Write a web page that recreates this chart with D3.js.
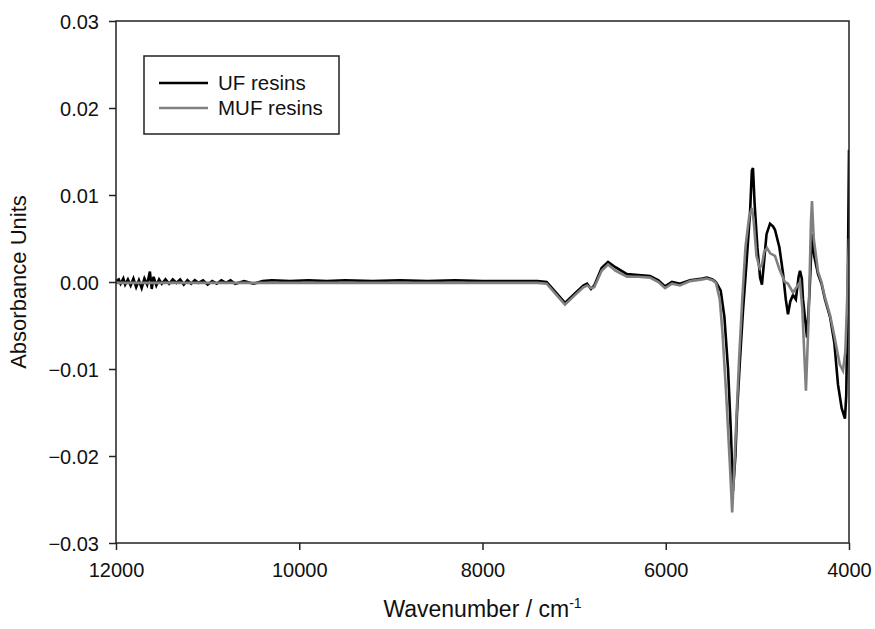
<!DOCTYPE html>
<html>
<head>
<meta charset="utf-8">
<script src="https://d3js.org/d3.v7.min.js"></script>
<style>
  body { margin: 0; background: #fff; }
  text { font-family: "Liberation Sans", Arial, sans-serif; fill: #111; }
</style>
</head>
<body>
<svg width="875" height="629"></svg>
<script>
// [wavenumber, absorbance]
var ufSpectrum = [
  [12000, 0.0001], [11970, 0.0003], [11950, -0.0002], [11920, 0.0004], [11900, -0.0003],
  [11870, 0.0003], [11840, -0.0004], [11810, 0.0004], [11780, -0.0006], [11750, 0.0002],
  [11720, -0.0007], [11690, 0.0004], [11660, -0.0003], [11630, 0.0012], [11610, -0.0008],
  [11590, 0.0006], [11560, -0.0004], [11530, 0.0003], [11500, -0.0002], [11460, 0.0003],
  [11420, -0.0002], [11380, 0.0003], [11340, -0.0001], [11300, 0.0003], [11260, -0.0003],
  [11220, 0.0002], [11180, -0.0002], [11140, 0.0002], [11100, -0.0001], [11050, 0.0002],
  [11000, -0.0003], [10950, 0.0001], [10900, -0.0002], [10850, 0.0002], [10800, -0.0001],
  [10750, 0.0002], [10700, -0.0002], [10600, 0.0001], [10500, -0.0002], [10400, 0.0001],
  [10300, 0.0002], [10100, 0.0001], [9900, 0.0002], [9700, 0.0001], [9500, 0.0002],
  [9200, 0.0001], [8900, 0.0002], [8600, 0.0001], [8300, 0.0002], [8000, 0.0001],
  [7700, 0.0001], [7400, 0.0001], [7300, 0.0000],
  [7200, -0.0012], [7100, -0.0024], [7000, -0.0014], [6900, -0.0004], [6859, -0.0002],
  [6816, -0.0008], [6780, -0.0004], [6700, 0.0016], [6630, 0.0023], [6550, 0.0017],
  [6423, 0.0009], [6300, 0.0008], [6172, 0.0007], [6080, 0.0002], [6008, -0.0005],
  [5932, 0.0000], [5845, -0.0002], [5735, 0.0002], [5600, 0.0004], [5550, 0.0005],
  [5490, 0.0003], [5452, 0.0000], [5400, -0.0010], [5360, -0.0040], [5320, -0.0100],
  [5290, -0.0170], [5266, -0.0240], [5240, -0.0200], [5222, -0.0150], [5190, -0.0090],
  [5157, -0.0033], [5120, 0.0020], [5080, 0.0080], [5060, 0.0128], [5048, 0.0131],
  [5030, 0.0090], [5000, 0.0040], [4970, 0.0005], [4950, -0.0003], [4930, 0.0020],
  [4900, 0.0055], [4862, 0.0067], [4830, 0.0064], [4808, 0.0060], [4760, 0.0040],
  [4720, 0.0010], [4690, -0.0020], [4666, -0.0037], [4640, -0.0022], [4611, -0.0015],
  [4580, -0.0020], [4550, 0.0006], [4535, 0.0013], [4515, 0.0004], [4502, -0.0020],
  [4458, -0.0064], [4430, -0.0010], [4404, 0.0055], [4380, 0.0030], [4338, 0.0009],
  [4300, -0.0002], [4262, -0.0020], [4207, -0.0040], [4160, -0.0070], [4120, -0.0118],
  [4080, -0.0145], [4044, -0.0157], [4030, -0.0130], [4015, -0.0020], [4000, 0.0152]
];

var mufSpectrum = [
  [12000, -0.0001], [11000, -0.0001], [10000, -0.0001], [9000, -0.0001], [8000, -0.0001],
  [7400, -0.0001], [7300, -0.0002], [7200, -0.0014], [7100, -0.0026], [7000, -0.0016],
  [6900, -0.0006], [6859, -0.0004], [6816, -0.0007], [6780, -0.0006], [6700, 0.0013],
  [6630, 0.0020], [6550, 0.0013], [6423, 0.0006], [6300, 0.0006], [6172, 0.0005],
  [6080, 0.0000], [6008, -0.0007], [5932, -0.0002], [5845, -0.0004], [5735, 0.0001],
  [5600, 0.0003], [5550, 0.0004], [5490, 0.0002], [5452, -0.0001], [5410, -0.0020],
  [5380, -0.0060], [5340, -0.0130], [5300, -0.0210], [5275, -0.0265], [5255, -0.0220],
  [5230, -0.0160], [5200, -0.0090], [5165, -0.0020], [5130, 0.0040], [5090, 0.0075],
  [5060, 0.0085], [5040, 0.0070], [5010, 0.0030], [4975, 0.0016], [4950, 0.0020],
  [4925, 0.0035], [4895, 0.0039], [4860, 0.0033], [4808, 0.0030], [4760, 0.0015],
  [4700, 0.0000], [4666, -0.0002], [4611, -0.0012], [4560, -0.0004], [4535, 0.0000],
  [4510, -0.0030], [4470, -0.0125], [4440, -0.0040], [4415, 0.0070], [4404, 0.0093],
  [4385, 0.0050], [4338, 0.0012], [4300, 0.0000], [4262, -0.0018], [4207, -0.0038],
  [4160, -0.0062], [4100, -0.0095], [4066, -0.0102], [4040, -0.0080], [4020, -0.0020],
  [4000, 0.0050]
];

var seriesNames = ["UF resins", "MUF resins"];
var seriesColors = ["#000000", "#808080"];
var xTicks = [12000, 10000, 8000, 6000, 4000];
var yTicks = [-0.03, -0.02, -0.01, 0.00, 0.01, 0.02, 0.03];

var svg = d3.select("svg");
var pLeft = 116, pRight = 849, pTop = 21, pBottom = 543;

var x = d3.scaleLinear().domain([12000, 4000]).range([pLeft, pRight]);
var y = d3.scaleLinear().domain([-0.03, 0.03]).range([pBottom, pTop]);

svg.append("defs").append("clipPath").attr("id", "plot")
  .append("rect")
  .attr("x", pLeft).attr("y", pTop)
  .attr("width", pRight - pLeft).attr("height", pBottom - pTop);

var line = d3.line()
  .x(function(d) { return x(d[0]); })
  .y(function(d) { return y(d[1]); });

var g = svg.append("g").attr("clip-path", "url(#plot)");
[ufSpectrum, mufSpectrum].forEach(function(s, i) {
  g.append("path")
    .datum(s)
    .attr("d", line)
    .style("fill", "none")
    .style("stroke", seriesColors[i])
    .style("stroke-width", 2.6);
});

// frame
svg.append("rect")
  .attr("x", pLeft).attr("y", pTop)
  .attr("width", pRight - pLeft).attr("height", pBottom - pTop)
  .style("fill", "none").style("stroke", "#222").style("stroke-width", 1.5);

var xAxis = svg.append("g")
  .attr("transform", "translate(0," + pBottom + ")")
  .call(d3.axisBottom(x).tickValues(xTicks).tickFormat(d3.format("d")).tickSize(7).tickSizeOuter(0));
var yAxis = svg.append("g")
  .attr("transform", "translate(" + pLeft + ",0)")
  .call(d3.axisLeft(y).tickValues(yTicks).tickFormat(d3.format(".2f")).tickSize(7).tickSizeOuter(0));

[xAxis, yAxis].forEach(function(a) {
  a.select(".domain").remove();
  a.selectAll("line").style("stroke", "#222").style("stroke-width", 1.5);
  a.selectAll("text").style("font-size", "20px").style("font-family", "'Liberation Sans', Arial, sans-serif").style("fill", "#111");
});
xAxis.selectAll("text").attr("y", 14).attr("dy", "1em");
yAxis.selectAll("text").attr("x", -17).attr("dy", "0.35em");

// axis titles
var xt = svg.append("text")
  .attr("x", (pLeft + pRight) / 2)
  .attr("y", 617)
  .attr("text-anchor", "middle")
  .style("font-size", "23px");
xt.append("tspan").text("Wavenumber / cm");
xt.append("tspan").attr("dy", -9).style("font-size", "14px").text("-1");

svg.append("text")
  .attr("text-anchor", "middle")
  .attr("transform", "translate(26," + ((pTop + pBottom) / 2) + ")rotate(-90)")
  .style("font-size", "22px")
  .text("Absorbance Units");

// legend
var lg = svg.append("g");
lg.append("rect")
  .attr("x", 144).attr("y", 56).attr("width", 195).attr("height", 78)
  .style("fill", "#fff").style("stroke", "#222").style("stroke-width", 1.5);
seriesNames.forEach(function(n, i) {
  var ly = 83 + i * 25;
  lg.append("line")
    .attr("x1", 159).attr("x2", 208).attr("y1", ly).attr("y2", ly)
    .style("stroke", seriesColors[i]).style("stroke-width", 2.6);
  lg.append("text")
    .attr("x", 218).attr("y", ly + 7)
    .style("font-size", "20.5px")
    .text(n);
});
</script>
</body>
</html>
